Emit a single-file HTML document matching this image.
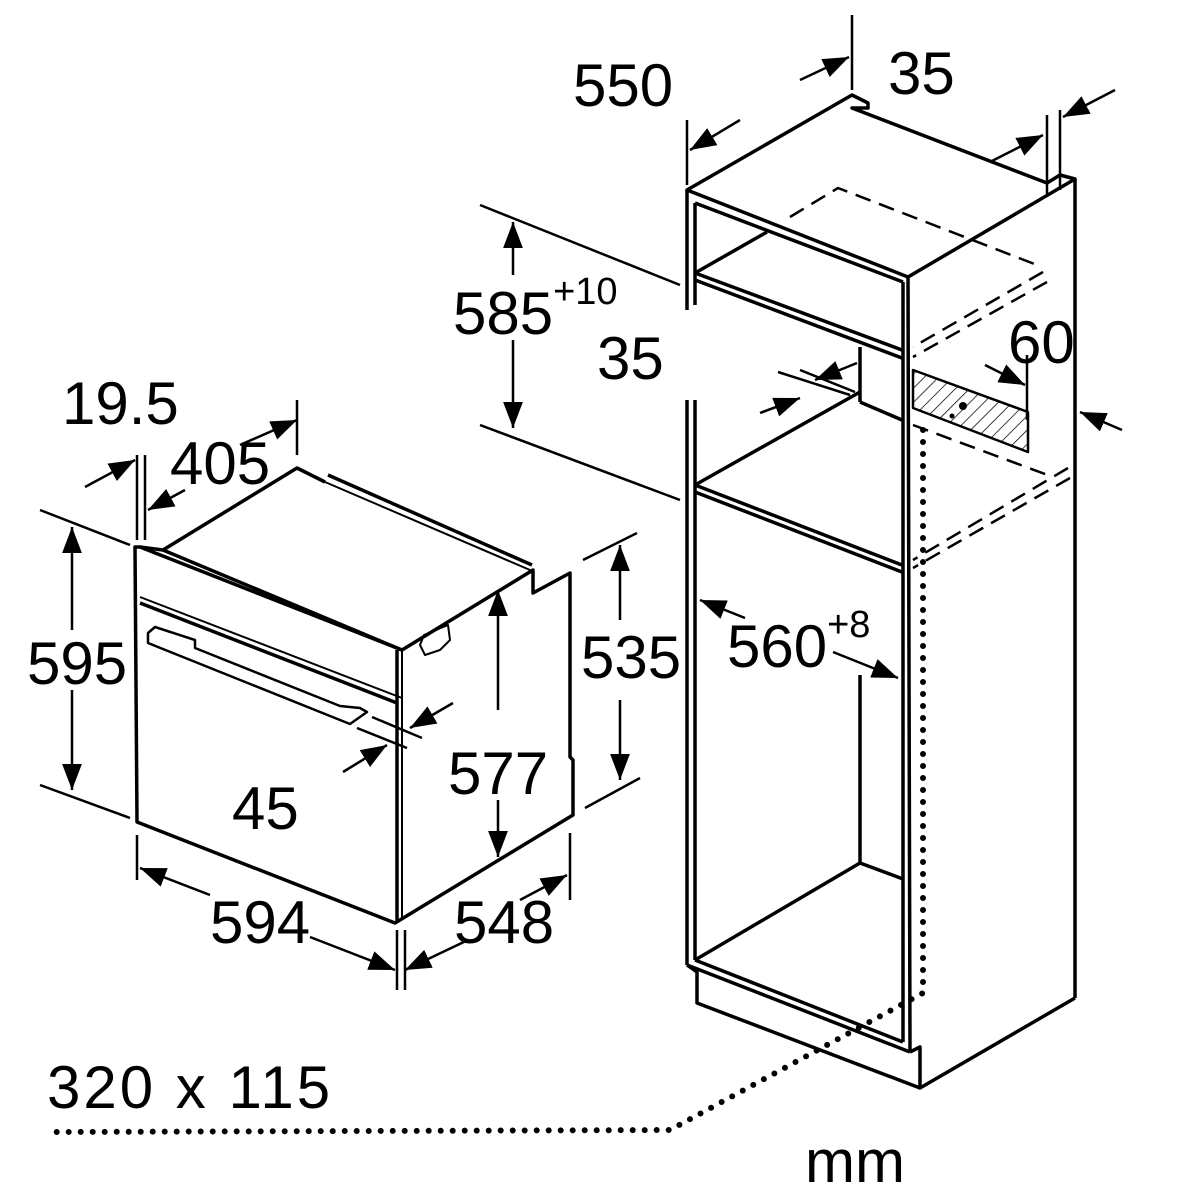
<!DOCTYPE html>
<html><head><meta charset="utf-8"><style>
html,body{margin:0;padding:0;background:#fff;}
svg{display:block;}
text{font-family:"Liberation Sans",sans-serif;font-size:60px;fill:#000;}
</style></head><body>
<svg width="1200" height="1200" viewBox="0 0 1200 1200" xmlns="http://www.w3.org/2000/svg">
<defs>
<marker id="a" viewBox="0 0 10 10" refX="10" refY="5" markerWidth="26" markerHeight="26" markerUnits="userSpaceOnUse" orient="auto"><path d="M0,1.2 L10,5 L0,8.8 Z" fill="#000"/></marker>
<pattern id="h" width="10" height="10" patternUnits="userSpaceOnUse" patternTransform="rotate(45)"><line x1="0" y1="0" x2="0" y2="10" stroke="#000" stroke-width="1.5"/></pattern>
</defs>
<g stroke="#000" fill="none" stroke-width="3.5" stroke-linejoin="round">
<!-- OVEN -->
<path d="M135,547 L137,822 L395,923 L573,815 L573,760 L570,757 L570,573 L533,593 L533,570 L402,650 L140,547 Z" fill="#fff"/>
<path d="M140,547 L163,550 L297,468 L325,482"/>
<path d="M328,475 L532,565"/><path d="M325,482 L530,570" stroke-width="2"/>
<path d="M163,550 L402,650"/>
<path d="M140,597 L402,698" stroke-width="2"/><path d="M140,603 L397,703"/>
<path d="M397,650 L397,923"/><path d="M402,650 L402,920" stroke-width="2"/>
<path d="M148,633 L155,627 L195,640 L195,648 L340,706 L360,708 L367,712 L350,724 L340,720 L148,643 Z" stroke-width="2.5"/>
<path d="M420,645 L424,635 L448,625 L450,640 L440,650 L425,655 Z" stroke-width="2"/>
<!-- oven dims -->
<g stroke-width="2.5">
<path d="M40,510 L130,545 M40,785 L130,818"/>
<path d="M72,630 L72,527" marker-end="url(#a)"/><path d="M72,690 L72,790" marker-end="url(#a)"/>
<path d="M583,560 L637,533 M585,808 L640,778"/>
<path d="M620,620 L620,545" marker-end="url(#a)"/><path d="M620,700 L620,780" marker-end="url(#a)"/>
<path d="M498,710 L498,590" marker-end="url(#a)"/><path d="M498,800 L498,857" marker-end="url(#a)"/>
<path d="M137,835 L137,880 M397,930 L397,990 M405,930 L405,990 M570,833 L570,900"/>
<path d="M210,895 L140,868" marker-end="url(#a)"/><path d="M310,937 L395,970" marker-end="url(#a)"/>
<path d="M468,940 L405,970" marker-end="url(#a)"/><path d="M520,900 L567,875" marker-end="url(#a)"/>
<path d="M137,455 L137,540 M145,455 L145,540 M297,400 L297,455"/>
<path d="M85,487 L135,460" marker-end="url(#a)"/><path d="M185,490 L148,510" marker-end="url(#a)"/>
<path d="M240,445 L297,420" marker-end="url(#a)"/>
<path d="M372,717 L422,738 M357,728 L407,748"/>
<path d="M453,703 L410,728" marker-end="url(#a)"/><path d="M343,772 L387,745" marker-end="url(#a)"/>
</g>
<!-- CABINET -->
<path d="M687,190 L852,95 L868,103 L868,108 L852,108 L1047,183 L1060,175 L1075,179 L908,277 Z"/>
<path d="M687,190 L687,310 M695,203 L695,305 M687,400 L687,965 M695,400 L695,960"/>
<path d="M908,277 L910,1052 M903,282 L903,1042 M1075,179 L1075,998"/>
<path d="M695,203 L903,282"/>
<path d="M695,273 L902,350 M695,280 L902,358 M695,273 L767,232"/>
<path d="M860,347 L860,402 M695,485 L860,392 M860,402 L902,420"/>
<path d="M695,485 L902,565 M695,492 L902,572"/>
<path d="M687,965 L910,1052 M695,960 L903,1042 M695,960 L860,863 L903,879 M860,863 L860,675"/>
<path d="M687,965 L697,972 L697,1003 L920,1088 L1075,998 M910,1052 L920,1047 L920,1088"/>
<path d="M913,370 L1028,412 L1028,452 L913,408 Z" fill="url(#h)" stroke-width="2.5"/>
<circle cx="963" cy="406" r="4" fill="#000" stroke="none"/><circle cx="952" cy="416" r="2.5" fill="#000" stroke="none"/>
<g stroke-dasharray="16,9" stroke-width="2.5">
<path d="M790,217 L838,188 L1037,265"/>
<path d="M1043,272 L913,347 M1047,282 L913,357"/>
<path d="M913,425 L1053,477 M1068,468 L913,560 M1070,478 L913,568"/>
</g>
<g stroke-dasharray="0,12" stroke-linecap="round" stroke-width="6">
<path d="M923,430 L923,993 L670,1130 L50,1132"/>
</g>
<g stroke-width="2.5">
<path d="M687,120 L687,185 M852,15 L852,90 M1047,115 L1047,195 M1060,110 L1060,190"/>
<path d="M740,120 L690,150" marker-end="url(#a)"/><path d="M800,80 L849,57" marker-end="url(#a)"/>
<path d="M990,162 L1043,135" marker-end="url(#a)"/><path d="M1115,90 L1063,117" marker-end="url(#a)"/>
<path d="M480,205 L680,285 M480,425 L680,500"/>
<path d="M513,275 L513,222" marker-end="url(#a)"/><path d="M513,340 L513,428" marker-end="url(#a)"/>
<path d="M1027,355 L1027,420"/>
<path d="M985,365 L1025,385" marker-end="url(#a)"/><path d="M1122,430 L1080,412" marker-end="url(#a)"/>
<path d="M800,370 L855,392 M778,372 L850,395"/>
<path d="M857,363 L815,380" marker-end="url(#a)"/><path d="M760,413 L800,398" marker-end="url(#a)"/>
<path d="M745,618 L700,600" marker-end="url(#a)"/><path d="M833,652 L898,678" marker-end="url(#a)"/>
</g>
</g>
<text x="573" y="106">550</text>
<text x="888" y="94">35</text>
<text x="453" y="334">585<tspan font-size="38" dy="-30">+10</tspan></text>
<text x="597" y="379">35</text>
<text x="1008" y="363">60</text>
<text x="62" y="424">19.5</text>
<text x="170" y="484">405</text>
<text x="27" y="684">595</text>
<text x="581" y="678">535</text>
<text x="727" y="667">560<tspan font-size="38" dy="-30">+8</tspan></text>
<text x="448" y="794">577</text>
<text x="232" y="829">45</text>
<text x="210" y="943">594</text>
<text x="454" y="943">548</text>
<text x="47" y="1108" letter-spacing="3">320 x 115</text>
<text x="805" y="1182">mm</text>
</svg>
</body></html>
